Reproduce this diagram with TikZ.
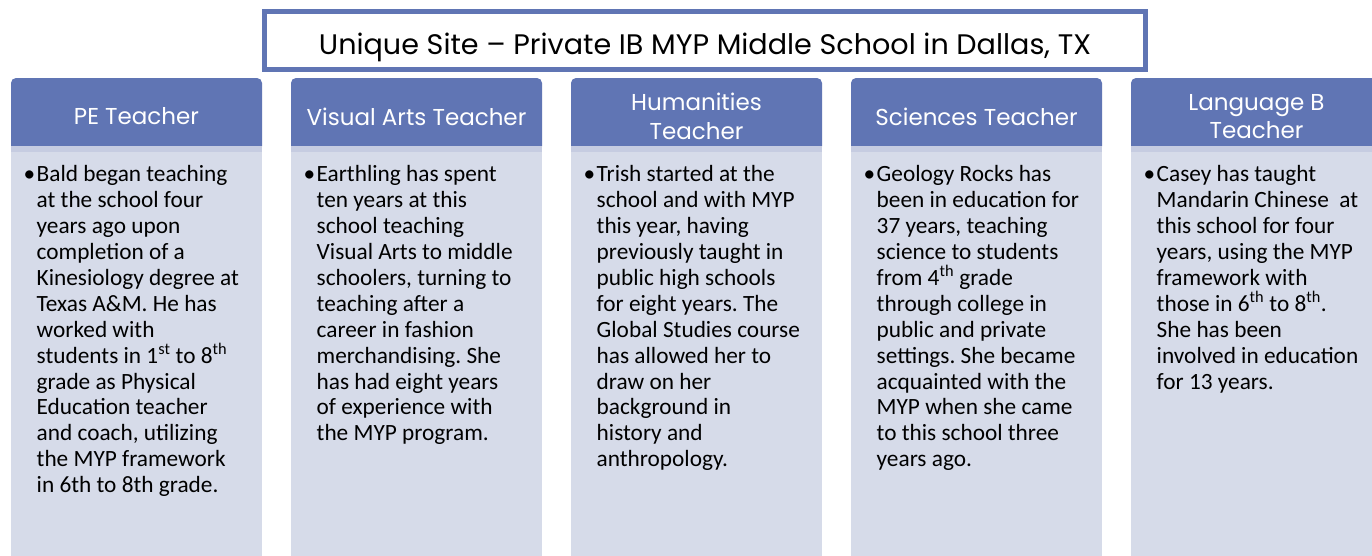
\documentclass[tikz,border=0pt]{standalone}
\usepackage{fontspec}
\setmainfont{Carlito}
\newfontfamily\hdrfont{Poppins}
\definecolor{hdrblue}{RGB}{96,117,180}
\definecolor{bandblue}{RGB}{198,204,225}
\definecolor{bodyblue}{RGB}{214,219,233}
\tikzset{
  titlebox/.style={draw=hdrblue, line width=5pt, fill=white, minimum width=881pt, minimum height=58pt, inner sep=0pt, text height=27pt, text depth=0pt},
  hdrtext/.style={text=white, font=\hdrfont\fontsize{23}{28.5}\selectfont, align=center, inner sep=0pt},
  bodytext/.style={text=black, font=\fontsize{23.3}{25.9}\selectfont\frenchspacing, align=left, anchor=north west, inner sep=0pt},
}
\newcommand{\bul}{\llap{•\hspace{1.5pt}}}
\begin{document}
\begin{tikzpicture}[x=1pt,y=1pt]
\useasboundingbox (0,0) rectangle (1372,-555);
\fill[white] (0,0) rectangle (1372,-555);
% columns
\foreach \x in {11,291,571,851,1131}{
  \fill[hdrblue] (\x,-146) [rounded corners=5pt] -- (\x,-78) -- (\x+251,-78) [sharp corners] -- (\x+251,-146) -- cycle;
  \fill[bandblue] (\x,-146) rectangle (\x+251,-152);
  \fill[bodyblue] (\x,-152) rectangle (\x+251,-560);
}
% title
\node[titlebox] (title) at (705,-40.5) {\resizebox{772pt}{21.5pt}{\hdrfont Unique Site – Private IB MYP Middle School in Dallas, TX}};
% headers
\node[hdrtext] (h1) at (136.5,-116.5) {PE Teacher};
\node[hdrtext] (h2) at (416.5,-116.5) {Visual Arts Teacher};
\node[hdrtext] (h3) at (696.5,-116.5) {Humanities\\Teacher};
\node[hdrtext] (h4) at (976.5,-116.5) {Sciences Teacher};
\node[hdrtext] (h5) at (1256.5,-116.5) {Language B\\Teacher};
% bodies
\node[bodytext] (b1) at (36.5,-163.5) {\strut\bul Bald began teaching\\at the school four\\years ago upon\\completion of a\\Kinesiology degree at\\Texas A\&M. He has\\worked with\\students in 1\textsuperscript{st} to 8\textsuperscript{th}\\grade as Physical\\Education teacher\\and coach, utilizing\\the MYP framework\\in 6th to 8th grade.};
\node[bodytext] (b2) at (316.5,-163.5) {\strut\bul Earthling has spent\\ten years at this\\school teaching\\Visual Arts to middle\\schoolers, turning to\\teaching after a\\career in fashion\\merchandising. She\\has had eight years\\of experience with\\the MYP program.};
\node[bodytext] (b3) at (596.5,-163.5) {\strut\bul Trish started at the\\school and with MYP\\this year, having\\previously taught in\\public high schools\\for eight years. The\\Global Studies course\\has allowed her to\\draw on her\\background in\\history and\\anthropology.};
\node[bodytext] (b4) at (876.5,-163.5) {\strut\bul Geology Rocks has\\been in education for\\37 years, teaching\\science to students\\from 4\textsuperscript{th} grade\\through college in\\public and private\\settings. She became\\acquainted with the\\MYP when she came\\to this school three\\years ago.};
\node[bodytext] (b5) at (1156.5,-163.5) {\strut\bul Casey has taught\\Mandarin Chinese\ \ at\\this school for four\\years, using the MYP\\framework with\\those in 6\textsuperscript{th} to 8\textsuperscript{th}.\\She has been\\involved in education\\for 13 years.};
\end{tikzpicture}
\end{document}
